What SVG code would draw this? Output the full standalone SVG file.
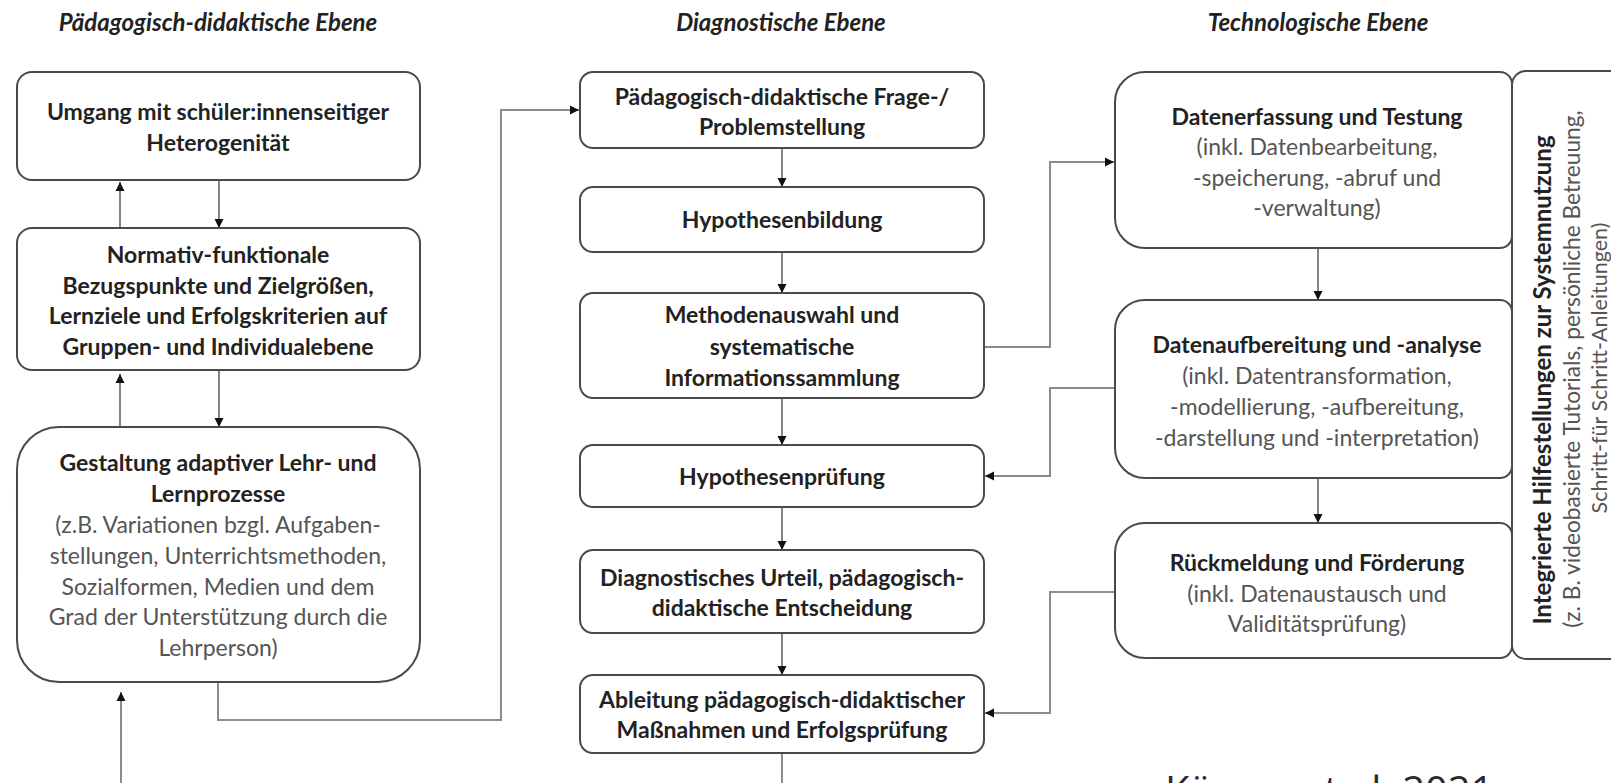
<svg xmlns="http://www.w3.org/2000/svg" width="1611" height="783" viewBox="0 0 1611 783">
<defs>
<marker id="ah" markerUnits="userSpaceOnUse" markerWidth="10" markerHeight="10" refX="9" refY="5" orient="auto">
<path d="M0,0.5 L9,5 L0,9.5 Z" fill="#111"/>
</marker>
<style>
.box{fill:#fff;stroke:#4a4a4a;stroke-width:2}
.con{fill:none;stroke:#8c8c8c;stroke-width:2}
.ar{fill:none;stroke:#666;stroke-width:1.6}
text{font-family:Lato,"Open Sans","Liberation Sans",sans-serif;text-anchor:middle}
.b{font-weight:700;font-size:23px;fill:#222}
.r{font-weight:400;font-size:23px;fill:#555}
.t{font-weight:700;font-style:italic;font-size:24px;fill:#222}
.v1{font-size:24px}
.v2{font-size:22.7px}
.v3{font-size:21.5px}
.cite{font-family:"Open Sans","Noto Sans",sans-serif;font-size:40px;fill:#2a2a2a;text-anchor:start}
</style>
</defs>
<rect width="1611" height="783" fill="#fff"/>

<g id="titles">
<text class="t" x="218" y="31">Pädagogisch-didaktische Ebene</text>
<text class="t" x="781" y="31">Diagnostische Ebene</text>
<text class="t" x="1318" y="31">Technologische Ebene</text>
</g>

<g id="connectors">
<line class="ar" x1="120" y1="228" x2="120" y2="182" marker-end="url(#ah)"/>
<line class="ar" x1="219" y1="180" x2="219" y2="228" marker-end="url(#ah)"/>
<line class="ar" x1="120" y1="427" x2="120" y2="374" marker-end="url(#ah)"/>
<line class="ar" x1="219" y1="370" x2="219" y2="427" marker-end="url(#ah)"/>
<line class="con" x1="121" y1="783" x2="121" y2="692" marker-end="url(#ah)"/>
<path class="con" d="M218,682 V720 H501 V110 H579" marker-end="url(#ah)"/>
<line class="ar" x1="782" y1="148" x2="782" y2="187" marker-end="url(#ah)"/>
<line class="ar" x1="782" y1="252" x2="782" y2="293" marker-end="url(#ah)"/>
<line class="ar" x1="782" y1="398" x2="782" y2="445" marker-end="url(#ah)"/>
<line class="ar" x1="782" y1="507" x2="782" y2="550" marker-end="url(#ah)"/>
<line class="ar" x1="782" y1="633" x2="782" y2="675" marker-end="url(#ah)"/>
<line class="con" x1="782" y1="753" x2="782" y2="783"/>
<path class="con" d="M984,347 H1050 V162 H1114" marker-end="url(#ah)"/>
<path class="con" d="M1115,388 H1050 V476 H985" marker-end="url(#ah)"/>
<path class="con" d="M1115,592 H1050 V713 H985" marker-end="url(#ah)"/>
<line class="ar" x1="1318" y1="248" x2="1318" y2="300" marker-end="url(#ah)"/>
<line class="ar" x1="1318" y1="478" x2="1318" y2="523" marker-end="url(#ah)"/>
</g>

<g id="p1">
<rect class="box" x="17" y="72" width="403" height="108" rx="15"/>
<text class="b" x="218" y="120">Umgang mit schüler:innenseitiger</text>
<text class="b" x="218" y="151">Heterogenität</text>
</g>
<g id="p2">
<rect class="box" x="17" y="228" width="403" height="142" rx="15"/>
<text class="b" x="218" y="263">Normativ-funktionale</text>
<text class="b" x="218" y="294">Bezugspunkte und Zielgrößen,</text>
<text class="b" x="218" y="324">Lernziele und Erfolgskriterien auf</text>
<text class="b" x="218" y="355">Gruppen- und Individualebene</text>
</g>
<g id="p3">
<rect class="box" x="17" y="427" width="403" height="255" rx="42"/>
<text class="b" x="218" y="471">Gestaltung adaptiver Lehr- und</text>
<text class="b" x="218" y="502">Lernprozesse</text>
<text class="r" x="218" y="533">(z.B. Variationen bzgl. Aufgaben-</text>
<text class="r" x="218" y="564">stellungen, Unterrichtsmethoden,</text>
<text class="r" x="218" y="595">Sozialformen, Medien und dem</text>
<text class="r" x="218" y="625">Grad der Unterstützung durch die</text>
<text class="r" x="218" y="656">Lehrperson)</text>
</g>

<g id="d1">
<rect class="box" x="580" y="72" width="404" height="76" rx="13"/>
<text class="b" x="782" y="105">Pädagogisch-didaktische Frage-/</text>
<text class="b" x="782" y="135">Problemstellung</text>
</g>
<g id="d2">
<rect class="box" x="580" y="187" width="404" height="65" rx="13"/>
<text class="b" x="782" y="228">Hypothesenbildung</text>
</g>
<g id="d3">
<rect class="box" x="580" y="293" width="404" height="105" rx="13"/>
<text class="b" x="782" y="323">Methodenauswahl und</text>
<text class="b" x="782" y="355">systematische</text>
<text class="b" x="782" y="386">Informationssammlung</text>
</g>
<g id="d4">
<rect class="box" x="580" y="445" width="404" height="62" rx="13"/>
<text class="b" x="782" y="485">Hypothesenprüfung</text>
</g>
<g id="d5">
<rect class="box" x="580" y="550" width="404" height="83" rx="13"/>
<text class="b" x="782" y="586">Diagnostisches Urteil, pädagogisch-</text>
<text class="b" x="782" y="616">didaktische Entscheidung</text>
</g>
<g id="d6">
<rect class="box" x="580" y="675" width="404" height="78" rx="13"/>
<text class="b" x="782" y="708">Ableitung pädagogisch-didaktischer</text>
<text class="b" x="782" y="738">Maßnahmen und Erfolgsprüfung</text>
</g>

<g id="help">
<rect class="box" x="1512" y="71" width="140" height="588" rx="14"/>
<g transform="translate(1551,380) rotate(-90)">
<text class="b v1" x="0" y="0">Integrierte Hilfestellungen zur Systemnutzung</text>
</g>
<g transform="translate(1580,369) rotate(-90)">
<text class="r v2" x="0" y="0">(z. B. videobasierte Tutorials, persönliche Betreuung,</text>
</g>
<g transform="translate(1607,368) rotate(-90)">
<text class="r v3" x="0" y="0">Schritt-für Schritt-Anleitungen)</text>
</g>
</g>

<g id="t1">
<path class="box" d="M1145,72 H1500 A12,12 0 0 1 1512,84 V236 A12,12 0 0 1 1500,248 H1145 A30,30 0 0 1 1115,218 V102 A30,30 0 0 1 1145,72 Z"/>
<text class="b" x="1317" y="125">Datenerfassung und Testung</text>
<text class="r" x="1317" y="155">(inkl. Datenbearbeitung,</text>
<text class="r" x="1317" y="186">-speicherung, -abruf und</text>
<text class="r" x="1317" y="216">-verwaltung)</text>
</g>
<g id="t2">
<path class="box" d="M1145,300 H1500 A12,12 0 0 1 1512,312 V466 A12,12 0 0 1 1500,478 H1145 A30,30 0 0 1 1115,448 V330 A30,30 0 0 1 1145,300 Z"/>
<text class="b" x="1317" y="353">Datenaufbereitung und -analyse</text>
<text class="r" x="1317" y="384">(inkl. Datentransformation,</text>
<text class="r" x="1317" y="415">-modellierung, -aufbereitung,</text>
<text class="r" x="1317" y="446">-darstellung und -interpretation)</text>
</g>
<g id="t3">
<path class="box" d="M1145,523 H1500 A12,12 0 0 1 1512,535 V646 A12,12 0 0 1 1500,658 H1145 A30,30 0 0 1 1115,628 V553 A30,30 0 0 1 1145,523 Z"/>
<text class="b" x="1317" y="571">Rückmeldung und Förderung</text>
<text class="r" x="1317" y="602">(inkl. Datenaustausch und</text>
<text class="r" x="1317" y="632">Validitätsprüfung)</text>
</g>

<g id="citation">
<text class="cite" x="1165" y="805">Kärner et al. 2021</text>
</g>
</svg>
